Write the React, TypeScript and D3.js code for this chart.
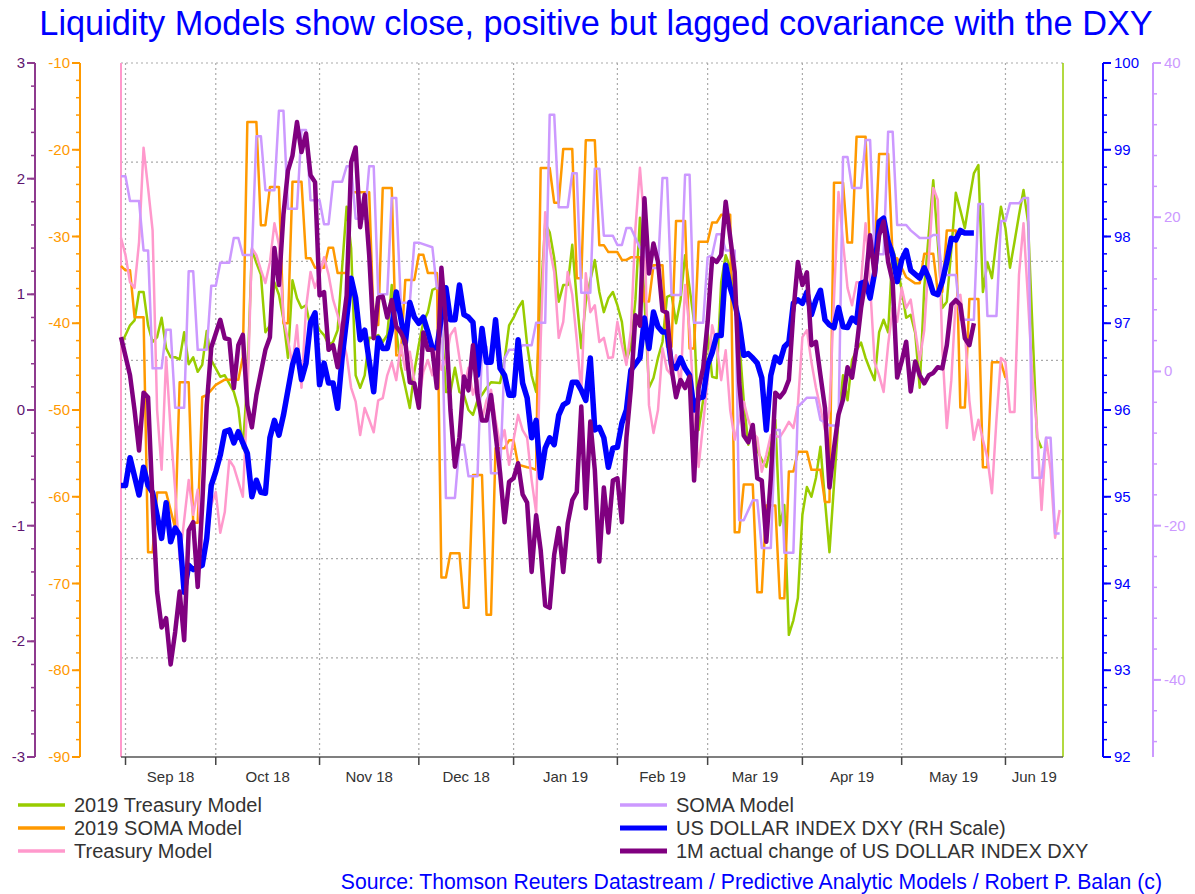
import React from "react";
import * as d3 from "d3";

const W = 1195;
const H = 894;
const FONT = "'Liberation Sans', Arial, Helvetica, sans-serif";

const titleText = "Liquidity Models show close, positive but lagged covariance with the DXY";
const sourceText = "Source: Thomson Reuters Datastream / Predictive Analytic Models / Robert P. Balan (c)";
const monthLabels = ["Sep 18", "Oct 18", "Nov 18", "Dec 18", "Jan 19", "Feb 19", "Mar 19", "Apr 19", "May 19", "Jun 19"];

// business days (index 0 = 31 Aug 2018)
const businessDays: Date[] = d3.timeDay
  .range(new Date(2018, 7, 31), new Date(2019, 5, 20))
  .filter((d) => d.getDay() % 6 !== 0);

// [business-day index, value]
const treasury2019: [number, number][] = [
  [0,59.4],[2,62.2],[3,62.9],[4,67.0],[5,67.0],[6,62.2],[7,59.8],[8,60.5],[9,63.3],[10,58.9],[11,57.6],[12,57.6],[13,57.3],[14,61.2],[15,56.6],[16,57.6],[17,55.5],[18,56.5],[19,61.4],[20,57.2],[22,54.8],[23,55.0],[25,52.6],[26,50.3],[27,44.5],[28,54.3],[29,73.1],[30,71.2],[31,69.5],[32,61.2],[33,62.2],[34,68.4],[35,66.6],[36,63.0],[37,57.5],[38,68.7],[39,66.1],[40,64.7],[41,65.1],[42,61.8],[43,63.0],[44,61.5],[45,60.8],[46,59.4],[47,59.8],[48,61.5],[49,70.5],[50,79.3],[51,73.3],[52,55.0],[53,53.2],[54,55.0],[55,60.4],[56,60.4],[57,60.8],[58,59.8],[59,60.8],[60,68.0],[61,61.5],[62,56.3],[64,50.3],[65,55.5],[66,59.4],[67,62.7],[68,64.1],[69,67.3],[70,67.6],[71,63.0],[72,52.6],[73,52.6],[74,56.1],[75,52.6],[76,52.2],[77,50.0],[78,49.3],[79,51.4],[80,52.2],[81,53.2],[82,54.0],[84,53.9],[85,57.2],[86,62.2],[87,63.3],[88,64.7],[89,65.7],[90,59.4],[91,55.0],[92,52.6],[93,65.9],[94,76.9],[95,75.6],[96,71.9],[97,65.6],[98,68.0],[99,68.0],[100,73.8],[101,65.9],[102,58.9],[103,65.6],[104,68.7],[105,71.6],[106,67.0],[107,64.1],[108,66.1],[109,67.0],[110,65.1],[111,62.7],[112,57.2],[113,59.1],[114,65.9],[115,77.7],[116,65.9],[117,53.2],[118,54.6],[119,57.5],[120,59.8],[121,66.3],[122,66.6],[123,62.5],[124,65.9],[125,72.3],[126,67.6],[127,62.7],[128,47.1],[129,51.4],[130,61.2],[131,54.8],[132,54.6],[133,68.4],[134,72.3],[135,70.5],[136,65.9],[137,60.1],[138,51.4],[139,45.0],[140,47.8],[141,44.2],[142,42.8],[143,41.8],[144,45.0],[145,48.6],[146,33.4],[147,36.3],[148,17.6],[149,19.7],[150,22.9],[151,34.9],[152,38.9],[153,37.5],[154,40.2],[155,44.7],[156,37.0],[157,29.5],[158,39.2],[159,48.6],[160,55.0],[161,51.4],[162,57.2],[163,58.6],[164,59.7],[165,57.5],[166,55.8],[167,54.3],[168,61.2],[169,63.0],[170,61.2],[171,73.3],[172,70.9],[173,67.3],[174,63.3],[175,63.7],[176,61.1],[177,53.2],[178,67.6],[180,83.1],[181,74.2],[182,64.7],[183,65.6],[184,73.1],[185,81.3],[186,78.8],[187,76.2],[188,80.3],[189,84.1],[190,85.3],[191,67.0],[192,71.3],[193,69.0],[194,74.5],[195,79.3],[196,76.2],[197,70.5],[198,74.2],[199,78.1],[200,81.7],[201,77.1],[202,61.5],[203,46.0],[204,44.5]
];

const soma2019: [number, number][] = [
  [0,-33.4],[1,-33.9],[2,-33.9],[3,-39.3],[5,-39.3],[6,-66.4],[7,-66.4],[8,-59.5],[10,-59.5],[12,-63.6],[13,-46.8],[15,-46.8],[16,-63.0],[17,-63.0],[18,-48.5],[19,-48.3],[21,-47.1],[23,-46.5],[24,-46.5],[26,-46.5],[27,-43.9],[28,-16.8],[30,-16.8],[31,-28.7],[32,-28.7],[33,-24.3],[35,-24.3],[36,-40.0],[37,-40.0],[38,-23.7],[40,-23.7],[41,-32.5],[42,-32.5],[43,-33.6],[45,-33.6],[46,-31.3],[47,-31.3],[48,-34.2],[50,-34.2],[51,-24.9],[55,-24.9],[56,-40.2],[57,-40.2],[58,-24.4],[60,-24.4],[61,-43.7],[62,-43.7],[63,-35.0],[65,-35.0],[66,-32.1],[67,-32.1],[68,-34.2],[70,-34.2],[71,-69.3],[72,-69.3],[73,-66.5],[75,-66.5],[76,-72.8],[77,-72.8],[78,-57.5],[80,-57.5],[81,-73.6],[82,-73.6],[83,-54.4],[85,-54.4],[86,-53.5],[87,-53.5],[88,-56.3],[90,-56.6],[91,-56.7],[92,-56.9],[93,-22.1],[95,-22.1],[96,-26.1],[97,-26.1],[98,-19.9],[100,-19.9],[101,-34.8],[102,-34.8],[103,-18.9],[105,-18.9],[106,-31.0],[107,-31.0],[108,-31.8],[110,-31.8],[111,-32.7],[112,-32.7],[113,-32.4],[115,-32.4],[116,-37.5],[117,-37.5],[118,-33.3],[120,-33.3],[121,-42.7],[122,-42.7],[123,-28.2],[125,-28.2],[126,-42.9],[127,-42.9],[128,-30.6],[130,-30.6],[131,-28.4],[132,-28.4],[133,-27.5],[135,-27.5],[136,-64.1],[137,-64.1],[138,-58.6],[140,-58.6],[141,-71.0],[142,-71.0],[143,-61.0],[145,-61.0],[146,-71.7],[147,-71.7],[148,-57.1],[149,-57.1],[150,-54.8],[152,-54.8],[153,-56.9],[155,-56.9],[156,-60.6],[157,-60.6],[158,-23.8],[160,-23.8],[161,-30.7],[162,-30.7],[163,-18.5],[165,-18.5],[166,-32.4],[167,-32.4],[168,-20.5],[170,-20.5],[171,-32.5],[172,-32.5],[174,-34.7],[176,-35.4],[177,-35.4],[178,-32.0],[180,-32.0],[181,-36.4],[182,-36.4],[183,-29.3],[185,-29.3],[186,-49.7],[187,-49.7],[188,-37.2],[190,-37.2],[191,-56.6],[192,-56.6],[193,-44.5],[195,-44.5],[196,-46.3]
];

const treasuryModel: [number, number][] = [
  [0,74.8],[1,72.3],[2,68.4],[3,67.6],[4,74.2],[5,87.8],[6,82.0],[7,75.9],[8,50.0],[9,41.4],[10,57.6],[11,47.1],[12,38.5],[13,28.4],[15,39.9],[16,34.9],[17,38.5],[18,29.5],[19,30.5],[20,36.3],[21,38.2],[22,32.3],[23,35.3],[24,42.8],[25,41.8],[27,37.5],[28,51.4],[29,73.3],[30,72.3],[31,70.2],[32,68.3],[33,71.3],[34,76.9],[35,73.8],[36,63.3],[37,60.1],[38,56.5],[39,62.2],[40,53.2],[41,64.7],[42,69.9],[43,67.6],[44,69.5],[45,72.0],[46,69.5],[47,65.9],[48,63.7],[49,60.8],[50,57.9],[51,53.2],[52,51.2],[53,46.4],[54,50.3],[55,48.6],[56,46.8],[57,51.4],[58,51.7],[59,55.0],[60,56.9],[61,54.3],[62,59.4],[63,55.8],[64,58.4],[65,54.3],[66,51.4],[67,55.5],[68,57.2],[69,55.0],[70,59.4],[71,55.8],[72,57.2],[73,60.8],[74,61.8],[75,57.5],[76,53.2],[77,56.1],[78,52.2],[79,54.3],[80,48.6],[81,51.4],[82,52.9],[83,48.6],[84,45.0],[85,47.1],[86,42.1],[87,45.7],[88,49.3],[89,47.1],[90,46.0],[91,39.9],[92,35.2],[93,60.0],[94,78.5],[95,73.3],[96,69.9],[97,60.4],[98,62.7],[99,69.9],[100,66.6],[101,60.1],[102,52.6],[103,69.7],[104,64.1],[105,65.1],[106,59.8],[107,60.4],[108,57.5],[109,57.6],[110,62.7],[111,59.4],[112,56.5],[113,61.5],[114,76.2],[115,84.9],[116,76.7],[117,50.7],[118,46.7],[119,50.0],[120,58.9],[121,55.8],[122,55.0],[123,57.9],[124,53.2],[125,68.0],[126,61.5],[127,50.0],[128,41.8],[129,48.0],[130,54.3],[131,62.2],[132,59.4],[133,54.3],[134,58.6],[135,50.0],[136,45.7],[137,48.6],[138,51.2],[139,48.6],[140,46.8],[141,46.0],[142,41.1],[143,43.5],[144,46.4],[146,46.1],[147,47.1],[148,48.3],[149,47.4],[150,50.7],[151,60.5],[152,61.5],[153,56.9],[154,53.2],[155,50.3],[156,47.1],[157,50.0],[158,65.9],[159,81.4],[160,74.2],[161,67.6],[162,65.1],[163,68.4],[164,68.4],[165,76.9],[166,68.0],[167,56.9],[168,55.0],[169,52.6],[170,59.4],[171,64.7],[172,62.7],[173,67.6],[174,64.7],[175,65.9],[176,61.5],[177,57.2],[178,61.5],[179,71.6],[180,82.0],[181,80.3],[182,58.9],[183,47.4],[184,54.3],[185,66.1],[186,66.6],[187,61.5],[188,51.4],[189,45.7],[190,48.6],[191,45.7],[192,43.1],[193,38.0],[194,48.6],[195,57.5],[196,56.9],[197,49.7],[198,49.7],[199,69.5],[200,76.9],[201,65.9],[202,54.3],[203,47.1],[204,35.6],[205,46.0],[206,41.4],[207,31.6],[208,35.6]
];

const somaModel: [number, number][] = [
  [0,25.3],[1,25.3],[2,22.1],[4,22.1],[5,15.7],[6,15.7],[7,0.4],[9,0.4],[10,5.4],[11,5.4],[12,-4.7],[14,-4.7],[15,13.0],[16,13.0],[17,2.8],[19,2.8],[20,11.1],[21,11.1],[22,14.1],[24,14.1],[25,17.3],[26,17.3],[27,15.1],[29,15.1],[30,30.5],[31,30.5],[32,23.5],[34,23.5],[35,33.8],[36,33.8],[37,21.1],[39,21.1],[40,31.3],[41,31.3],[42,22.2],[44,22.2],[45,19.1],[46,19.1],[47,24.6],[49,24.6],[50,26.6],[51,26.6],[52,19.8],[54,19.8],[55,26.6],[56,26.6],[57,10.0],[59,10.0],[60,22.5],[61,22.5],[62,8.9],[64,8.9],[65,16.7],[66,16.7],[69,16.1],[70,10.8],[71,10.8],[72,-16.4],[74,-16.4],[75,-9.5],[76,-9.5],[77,-13.6],[79,-13.6],[80,3.2],[81,3.2],[82,-13.2],[84,-13.2],[85,1.7],[86,2.8],[88,2.8],[89,3.4],[91,3.4],[92,6.3],[94,6.3],[95,33.3],[96,33.3],[97,21.3],[99,21.3],[100,25.7],[101,25.7],[102,10.2],[104,10.2],[105,26.3],[106,26.3],[107,17.6],[109,17.6],[110,16.4],[111,16.4],[112,18.6],[113,18.6],[115,16.0],[116,16.0],[117,13.4],[119,13.4],[120,25.1],[121,25.1],[122,9.9],[124,9.9],[125,25.5],[126,25.5],[127,6.3],[129,6.3],[130,14.8],[131,15.1],[132,17.8],[133,17.8],[134,15.7],[136,15.7],[137,-19.3],[138,-19.3],[140,-16.7],[141,-16.7],[142,-22.9],[144,-22.9],[145,-7.6],[146,-7.6],[147,-23.5],[149,-23.5],[150,-4.6],[152,-3.4],[154,-3.4],[155,-6.3],[157,-7.0],[159,-7.0],[160,27.8],[161,27.8],[162,23.8],[164,23.8],[165,30.0],[166,30.0],[167,15.2],[169,15.2],[170,31.1],[171,31.1],[172,19.0],[174,19.0],[175,18.3],[177,17.3],[179,17.3],[180,17.7],[181,17.7],[182,12.5],[185,12.5],[186,6.7],[189,6.7],[190,21.7],[191,21.7],[192,7.2],[194,7.2],[195,19.5],[196,19.5],[197,21.8],[199,21.8],[200,22.5],[201,22.5],[202,-13.8],[204,-13.8],[205,-8.6],[206,-8.6],[207,-21.0],[208,-21.0]
];

const dxyIndex: [number, number][] = [
  [0,95.13],[1,95.13],[2,95.45],[4,95.02],[5,95.34],[6,95.13],[7,95.05],[9,94.52],[10,94.93],[11,94.48],[12,94.64],[13,94.56],[14,93.90],[15,94.21],[16,94.16],[18,94.21],[19,94.52],[20,95.13],[21,95.29],[22,95.48],[23,95.75],[24,95.77],[25,95.62],[26,95.75],[27,95.62],[28,95.50],[29,95.00],[30,95.19],[31,95.05],[32,95.04],[33,95.68],[34,95.88],[35,95.71],[36,95.94],[38,96.52],[39,96.69],[40,96.35],[41,96.54],[42,97.01],[43,97.12],[44,96.29],[45,96.54],[46,96.31],[47,96.31],[48,96.02],[49,96.60],[50,97.05],[51,97.52],[52,97.29],[53,96.81],[54,96.92],[56,96.21],[57,96.83],[58,96.71],[59,96.71],[60,96.94],[61,97.36],[62,97.06],[63,96.77],[64,97.24],[65,97.07],[66,97.00],[67,97.07],[68,96.90],[69,96.71],[70,96.72],[72,97.41],[73,97.04],[74,97.04],[75,97.44],[76,97.10],[77,97.07],[78,97.01],[79,96.40],[80,96.94],[81,96.55],[82,96.55],[83,97.04],[84,96.48],[85,96.40],[86,96.17],[87,96.17],[88,96.81],[89,96.31],[90,96.14],[91,95.68],[92,95.88],[93,95.22],[94,95.56],[95,95.68],[96,95.60],[97,95.94],[98,96.06],[99,96.09],[100,96.32],[101,96.32],[102,96.23],[103,96.11],[104,96.60],[105,95.77],[106,95.80],[107,95.68],[108,95.34],[109,95.56],[110,95.57],[111,95.85],[112,96.00],[113,96.46],[115,96.60],[116,97.06],[117,96.71],[118,97.13],[119,96.96],[120,96.90],[121,96.90],[122,96.52],[123,96.48],[124,96.60],[125,96.48],[126,96.40],[127,96.00],[128,96.14],[129,96.15],[130,96.52],[131,96.66],[132,96.86],[133,96.86],[134,97.67],[135,97.41],[136,97.24],[137,97.00],[138,96.63],[139,96.65],[140,96.60],[141,96.54],[142,96.37],[143,95.77],[144,96.40],[145,96.61],[146,96.55],[147,96.73],[148,96.78],[149,97.23],[150,97.27],[151,97.23],[152,97.36],[153,97.10],[154,97.27],[155,97.38],[156,97.04],[157,96.98],[158,96.95],[159,97.18],[160,96.96],[161,96.95],[162,97.06],[163,97.01],[164,97.46],[165,97.48],[166,97.29],[167,97.58],[168,98.17],[169,98.21],[170,97.94],[171,97.79],[172,97.48],[173,97.73],[174,97.84],[175,97.61],[177,97.52],[178,97.64],[179,97.52],[180,97.35],[181,97.33],[182,97.48],[183,97.71],[184,97.98],[185,97.96],[186,98.07],[187,98.04],[189,98.04]
];

const dxyChange1M: [number, number][] = [
  [0,0.63],[2,0.30],[3,0.0],[4,-0.35],[5,0.15],[6,0.11],[7,-0.8],[8,-1.57],[9,-1.88],[10,-1.80],[11,-2.20],[12,-1.92],[13,-1.57],[14,-1.99],[15,-1.04],[16,-0.97],[17,-1.53],[18,-0.82],[19,0.04],[20,0.54],[22,0.78],[23,0.62],[24,0.61],[25,0.19],[26,0.56],[27,0.65],[28,0.04],[29,-0.15],[30,0.13],[32,0.52],[33,0.63],[34,1.40],[35,1.08],[36,1.69],[37,2.07],[38,2.20],[39,2.49],[40,2.23],[41,2.39],[42,2.03],[43,1.97],[44,0.99],[45,1.02],[46,0.52],[47,0.56],[48,0.37],[50,0.99],[51,2.14],[52,2.27],[53,1.58],[54,1.86],[55,1.34],[56,0.62],[57,0.97],[58,0.98],[59,0.80],[60,0.95],[61,0.72],[62,0.67],[63,0.59],[64,0.24],[65,0.23],[66,0.02],[67,0.67],[68,0.52],[69,0.52],[70,0.19],[71,1.23],[72,0.76],[73,0.0],[74,-0.49],[75,-0.24],[76,0.29],[77,0.17],[78,0.56],[79,0.13],[80,-0.09],[81,-0.09],[82,0.13],[84,-0.54],[85,-0.97],[86,-0.62],[87,-0.59],[88,-0.46],[89,-0.73],[90,-0.80],[91,-1.40],[92,-0.91],[93,-1.21],[94,-1.69],[95,-1.71],[96,-1.25],[97,-1.02],[98,-1.40],[99,-0.98],[100,-0.78],[101,-0.71],[102,0.03],[103,-0.85],[104,-0.10],[105,-0.52],[106,-1.31],[107,-0.67],[108,-1.06],[109,-0.61],[110,-0.59],[111,-0.97],[112,-0.24],[113,0.19],[114,0.82],[115,0.73],[116,1.83],[117,1.18],[118,1.44],[119,1.28],[120,0.86],[121,0.84],[122,0.36],[123,0.11],[124,0.26],[125,0.19],[126,0.29],[127,-0.61],[128,0.19],[129,0.36],[130,0.76],[131,1.31],[132,1.28],[133,1.34],[134,1.80],[136,1.19],[137,0.24],[138,-0.22],[139,-0.28],[140,-0.13],[141,-0.59],[142,-0.61],[143,-1.14],[144,-0.59],[145,0.15],[146,0.11],[147,0.16],[148,0.26],[149,0.85],[150,1.28],[151,1.08],[152,1.19],[153,0.56],[154,0.59],[155,0.30],[156,0.02],[157,-0.67],[158,-0.33],[159,-0.04],[160,0.09],[161,0.37],[162,0.28],[163,0.54],[164,0.88],[165,1.12],[166,1.51],[167,1.17],[168,1.51],[169,1.63],[170,1.28],[171,1.11],[172,0.28],[173,0.42],[174,0.59],[175,0.16],[176,0.42],[177,0.30],[178,0.23],[179,0.30],[180,0.32],[181,0.37],[182,0.36],[183,0.56],[184,0.91],[185,0.95],[186,0.91],[187,0.62],[188,0.56],[189,0.75]
];

const seriesNames = [
  "2019 Treasury Model",
  "2019 SOMA Model",
  "Treasury Model",
  "SOMA Model",
  "US DOLLAR INDEX DXY (RH Scale)",
  "1M actual change of US DOLLAR INDEX DXY",
];

const COLORS = {
  green: "#99CC00",
  orange: "#FF9900",
  pink: "#FF99CC",
  lavender: "#CC99FF",
  blue: "#0000FF",
  purple: "#800080",
};

const L = 121, R = 1063, T = 63, B = 757;

export default function App() {
  const x = d3.scaleLinear().domain([0, 208.75]).range([L, R]);
  const yPurple = d3.scaleLinear().domain([-3, 3]).range([B, T]);
  const yOrange = d3.scaleLinear().domain([-90, -10]).range([B, T]);
  const yBlue = d3.scaleLinear().domain([92, 100]).range([B, T]);
  const yLav = d3.scaleLinear().domain([-50, 40]).range([B, T]);
  const yPink = d3.scaleLinear().domain([0, 100]).range([B, T]);
  const yGreen = d3.scaleLinear().domain([0, 100]).range([B, T]);

  const mk = (ys: d3.ScaleLinear<number, number>) =>
    d3.line<[number, number]>().x((d) => x(d[0])).y((d) => ys(d[1]));

  const monthStarts: number[] = [];
  businessDays.forEach((d, i) => {
    if (i > 0 && d.getMonth() !== businessDays[i - 1].getMonth()) monthStarts.push(i);
  });

  const hGrid = d3.range(8).map((k) => T + (k * (B - T)) / 7);

  const lines = [
    { data: treasury2019, y: yGreen, color: COLORS.green, w: 2.5 },
    { data: soma2019, y: yOrange, color: COLORS.orange, w: 2.5 },
    { data: treasuryModel, y: yPink, color: COLORS.pink, w: 2.5 },
    { data: somaModel, y: yLav, color: COLORS.lavender, w: 2.5 },
    { data: dxyIndex, y: yBlue, color: COLORS.blue, w: 5.5 },
    { data: dxyChange1M, y: yPurple, color: COLORS.purple, w: 4.5 },
  ];

  const legendItems = [
    { name: seriesNames[0], color: COLORS.green, col: 0, row: 0, w: 3.5 },
    { name: seriesNames[1], color: COLORS.orange, col: 0, row: 1, w: 3.5 },
    { name: seriesNames[2], color: COLORS.pink, col: 0, row: 2, w: 3.5 },
    { name: seriesNames[3], color: COLORS.lavender, col: 1, row: 0, w: 3.5 },
    { name: seriesNames[4], color: COLORS.blue, col: 1, row: 1, w: 5 },
    { name: seriesNames[5], color: COLORS.purple, col: 1, row: 2, w: 5 },
  ];

  const fmt = (v: number) => String(Math.round(v));

  const leftAxis = (
    ax: number,
    scale: d3.ScaleLinear<number, number>,
    major: number[],
    minor: number[],
    lineColor: string,
    textColor: string
  ) => (
    <g>
      <line x1={ax} x2={ax} y1={T} y2={B} stroke={lineColor} strokeWidth={2} />
      {minor.map((v, i) => (
        <line key={"mi" + i} x1={ax - 4} x2={ax} y1={scale(v)} y2={scale(v)} stroke={lineColor} strokeWidth={1.5} />
      ))}
      {major.map((v, i) => (
        <g key={"ma" + i}>
          <line x1={ax - 8} x2={ax} y1={scale(v)} y2={scale(v)} stroke={lineColor} strokeWidth={2} />
          <text x={ax - 10} y={scale(v) + 5} textAnchor="end" fontSize={15} fill={textColor} fontFamily={FONT}>
            {fmt(v)}
          </text>
        </g>
      ))}
    </g>
  );

  const rightAxis = (
    ax: number,
    scale: d3.ScaleLinear<number, number>,
    major: number[],
    minor: number[],
    lineColor: string,
    textColor: string
  ) => (
    <g>
      <line x1={ax} x2={ax} y1={T} y2={B} stroke={lineColor} strokeWidth={2} />
      {minor.map((v, i) => (
        <line key={"mi" + i} x1={ax} x2={ax + 4} y1={scale(v)} y2={scale(v)} stroke={lineColor} strokeWidth={1.5} />
      ))}
      {major.map((v, i) => (
        <g key={"ma" + i}>
          <line x1={ax} x2={ax + 8} y1={scale(v)} y2={scale(v)} stroke={lineColor} strokeWidth={2} />
          <text x={ax + 11} y={scale(v) + 5} textAnchor="start" fontSize={15} fill={textColor} fontFamily={FONT}>
            {fmt(v)}
          </text>
        </g>
      ))}
    </g>
  );

  return (
    <svg
      width={W}
      height={H}
      viewBox={`0 0 ${W} ${H}`}
      style={{ position: "absolute", left: 0, top: 0, display: "block", background: "#fff" }}
    >
      <rect x={0} y={0} width={W} height={H} fill="#fff" />
      <text x={596} y={35} textAnchor="middle" fontSize={34.3} fill="#0000FF" fontFamily={FONT}>
        {titleText}
      </text>

      {/* grid */}
      {hGrid.slice(0, 7).map((gy, i) => (
        <line key={"hg" + i} x1={L} x2={R} y1={gy} y2={gy} stroke="#aaa" strokeWidth={1.2} strokeDasharray="2,3" />
      ))}
      {monthStarts.map((mi, i) => (
        <line key={"vg" + i} x1={x(mi)} x2={x(mi)} y1={T} y2={B} stroke="#aaa" strokeWidth={1.2} strokeDasharray="2,3" />
      ))}

      {/* plot frame sides */}
      <line x1={L} x2={L} y1={T} y2={B} stroke={COLORS.pink} strokeWidth={2} />
      <line x1={R} x2={R} y1={T} y2={B} stroke={COLORS.green} strokeWidth={1.5} />

      {/* series */}
      {lines.map((s, i) => (
        <path
          key={"s" + i}
          d={mk(s.y)(s.data) || ""}
          fill="none"
          stroke={s.color}
          strokeWidth={s.w}
          strokeLinejoin="round"
          strokeLinecap="butt"
        />
      ))}

      {/* bottom axis */}
      <line x1={L} x2={R} y1={B} y2={B} stroke="#555" strokeWidth={1.5} />
      {monthStarts.map((mi, i) => (
        <line key={"xt" + i} x1={x(mi)} x2={x(mi)} y1={B} y2={B + 8} stroke="#444" strokeWidth={1.5} />
      ))}
      {monthStarts.map((mi, i) => {
        const nx = i + 1 < monthStarts.length ? x(monthStarts[i + 1]) : R;
        return (
          <text key={"xl" + i} x={(x(mi) + nx) / 2} y={782} textAnchor="middle" fontSize={15} fill="#333" fontFamily={FONT}>
            {monthLabels[i]}
          </text>
        );
      })}

      {/* left axes */}
      {leftAxis(35, yPurple, d3.range(-3, 3.001, 1), d3.range(-3, 3.001, 0.2), "#8E3A8E", "#5E1670")}
      {leftAxis(80, yOrange, d3.range(-90, -9.99, 10), d3.range(-90, -9.99, 2), COLORS.orange, COLORS.orange)}
      {/* right axes */}
      {rightAxis(1103, yBlue, d3.range(92, 100.001, 1), d3.range(92, 100.001, 0.2), COLORS.blue, COLORS.blue)}
      {rightAxis(1153, yLav, [-40, -20, 0, 20, 40], d3.range(40, -50, -4), COLORS.lavender, COLORS.lavender)}

      {/* legend */}
      {legendItems.map((it, i) => {
        const lx = it.col === 0 ? 18 : 620;
        const ly = 805 + it.row * 23;
        return (
          <g key={"lg" + i}>
            <line x1={lx} x2={lx + 47} y1={ly} y2={ly} stroke={it.color} strokeWidth={it.w} />
            <text x={lx + 56} y={ly + 7} fontSize={20} fill="#333" fontFamily={FONT}>
              {it.name}
            </text>
          </g>
        );
      })}

      <text x={1162} y={889} textAnchor="end" fontSize={21.2} fill="#0000FF" fontFamily={FONT}>
        {sourceText}
      </text>
    </svg>
  );
}
